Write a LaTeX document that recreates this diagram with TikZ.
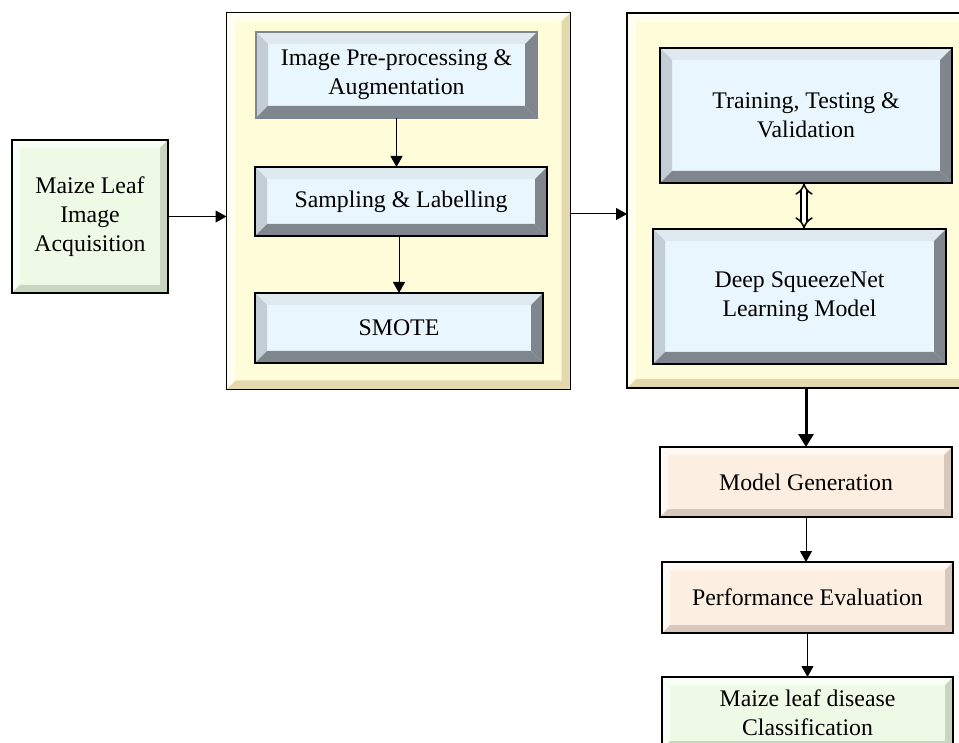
\documentclass[tikz,border=0pt]{standalone}
\usepackage{fontspec}
\setmainfont{Liberation Serif}
\usetikzlibrary{arrows.meta}

\definecolor{blfill}{HTML}{EAF6FD}
\definecolor{bltop}{HTML}{DFE9F0}
\definecolor{blleft}{HTML}{C3CDD6}
\definecolor{bldark}{HTML}{80868E}
\definecolor{yefill}{HTML}{FFFDD9}
\definecolor{yelight}{HTML}{FFFEF0}
\definecolor{yedark}{HTML}{E3D9AC}
\definecolor{befill}{HTML}{FDEEE2}
\definecolor{belight}{HTML}{FFF8F3}
\definecolor{bedark}{HTML}{D8C8BB}
\definecolor{grfill}{HTML}{EEFAE6}
\definecolor{grlight}{HTML}{F8FFF4}
\definecolor{grdark}{HTML}{C8D5BF}

\tikzset{
  bevT/.store in=\bvT, bevL/.store in=\bvL, bevR/.store in=\bvR, bevB/.store in=\bvB,
  bevW/.store in=\bvW,
  bevel/.style={path picture={
    \path (path picture bounding box.north west) coordinate (qnw)
          (path picture bounding box.north east) coordinate (qne)
          (path picture bounding box.south east) coordinate (qse)
          (path picture bounding box.south west) coordinate (qsw);
    \fill[\bvT] (qnw) -- (qne) -- ([xshift=-\bvW,yshift=-\bvW]qne) -- ([xshift=\bvW,yshift=-\bvW]qnw) -- cycle;
    \fill[\bvL] (qnw) -- (qsw) -- ([xshift=\bvW,yshift=\bvW]qsw) -- ([xshift=\bvW,yshift=-\bvW]qnw) -- cycle;
    \fill[\bvR] (qne) -- (qse) -- ([xshift=-\bvW,yshift=\bvW]qse) -- ([xshift=-\bvW,yshift=-\bvW]qne) -- cycle;
    \fill[\bvB] (qsw) -- (qse) -- ([xshift=-\bvW,yshift=\bvW]qse) -- ([xshift=\bvW,yshift=\bvW]qsw) -- cycle;
  }},
  boxbase/.style={rectangle, inner sep=0pt, outer sep=0pt, align=center,
    font=\fontsize{23.8}{29}\selectfont, text=black},
  bluebox/.style={boxbase, bevel, fill=blfill, draw=black, line width=1.4pt,
    bevT=bltop, bevL=blleft, bevR=bldark, bevB=bldark, bevW=12pt},
  yellowbox/.style={boxbase, bevel, fill=yefill, draw=black, line width=1.6pt,
    bevT=yelight, bevL=yelight, bevR=yedark, bevB=yedark, bevW=9pt},
  beigebox/.style={boxbase, bevel, fill=befill, draw=black, line width=1.6pt,
    bevT=belight, bevL=belight, bevR=bedark, bevB=bedark, bevW=8pt},
  greenbox/.style={boxbase, bevel, fill=grfill, draw=black, line width=1.6pt,
    bevT=grlight, bevL=grlight, bevR=grdark, bevB=grdark, bevW=8pt},
  arr/.style={line width=1pt, -{Triangle[length=11pt,width=12pt]}},
  thickarr/.style={line width=3pt, -{Triangle[length=13pt,width=15pt]}},
  dblarr/.style={double=white, double distance=4.5pt, line width=1.5pt,
    {Implies[length=7pt,width=15pt]}-{Implies[length=7pt,width=15pt]}},
}

\begin{document}
\begin{tikzpicture}[x=1pt,y=-1pt]
\path[use as bounding box, clip] (0,0) rectangle (959,743);
\fill[white] (0,0) rectangle (959,743);

% containers
\node[yellowbox, minimum width=344pt, minimum height=377pt] (c1) at (398.5,201) {};
\node[yellowbox, minimum width=356pt, minimum height=375pt] (c2) at (805,200.5) {};

% left block
\node[greenbox, minimum width=156pt, minimum height=153pt] (acq) at (90,216.5)
  {Maize Leaf\\Image\\Acquisition};

% first container contents
\node[bluebox, draw=bldark, minimum width=281pt, minimum height=86pt] (ipp) at (396.5,75)
  {Image Pre-processing \&\\Augmentation};
\node[bluebox, minimum width=292pt, minimum height=69pt] (smp) at (401,201.5)
  {Sampling \& Labelling};
\node[bluebox, minimum width=288pt, minimum height=70pt] (smo) at (399,328)
  {SMOTE};

% second container contents
\node[bluebox, minimum width=292pt, minimum height=135pt] (trn) at (806,115.5)
  {Training, Testing \&\\Validation};
\node[bluebox, minimum width=293pt, minimum height=135pt] (dsq) at (799.5,296.5)
  {Deep SqueezeNet\\Learning Model};

% lower chain
\node[beigebox, minimum width=292pt, minimum height=70pt] (mg) at (806,482)
  {Model Generation};
\node[beigebox, minimum width=291pt, minimum height=71pt] (pe) at (807.5,597.5)
  {Performance Evaluation};
\node[greenbox, minimum width=291pt, minimum height=72pt] (cls) at (807.5,713)
  {Maize leaf disease\\Classification};

% connectors
\draw[arr] (acq.east) -- (acq.east -| c1.west);
\draw[arr] ([yshift=-13pt]c1.east) -- ([yshift=-13pt]c1.east -| c2.west);
\draw[arr] (ipp.south) -- (ipp.south |- smp.north);
\draw[arr] (smo.north |- smp.south) -- (smo.north);
\draw[dblarr] ([xshift=-2pt]trn.south) -- ([xshift=-2pt]trn.south |- dsq.north);
\draw[thickarr] (c2.south -| mg.north) -- (mg.north);
\draw[arr] (mg.south) -- (mg.south |- pe.north);
\draw[arr] (pe.south) -- (pe.south |- cls.north);
\end{tikzpicture}
\end{document}
